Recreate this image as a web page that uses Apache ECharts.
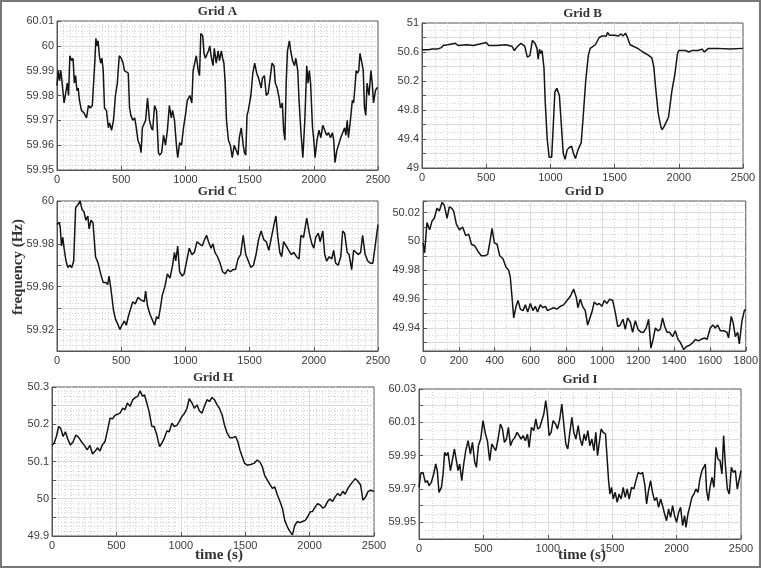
<!DOCTYPE html>
<html>
<head>
<meta charset="utf-8">
<script src="https://cdn.jsdelivr.net/npm/echarts@6/dist/echarts.min.js"></script>
<style>
  html, body { margin: 0; padding: 0; background: #fff; }
  #chart { width: 761px; height: 568px; }
</style>
</head>
<body>
<div id="chart"></div>
<script>
// Grid A
const tA = [0,10,20,30,40,55,65,80,90,100,
  115,125,135,145,155,165,175,190,210,230,
  245,260,275,285,295,303,312,320,330,340,
  350,360,370,385,400,410,425,440,455,470,
  485,500,515,525,540,555,565,575,590,605,
  615,630,645,655,665,690,705,720,735,745,
  760,775,790,800,815,830,845,860,875,890,
  900,915,930,940,955,970,985,1000,1015,1035,
  1050,1060,1075,1085,1100,1110,1120,1135,1145,1155,
  1170,1180,1190,1200,1215,1225,1240,1255,1265,1280,
  1290,1300,1310,1320,1335,1350,1365,1380,1395,1410,
  1420,1435,1450,1460,1470,1480,1490,1510,1525,1540,
  1555,1570,1590,1600,1615,1630,1645,1660,1675,1690,
  1700,1715,1730,1740,1755,1765,1775,1785,1795,1810,
  1820,1835,1850,1860,1875,1885,1900,1915,1930,1945,
  1955,1965,1975,1990,2000,2010,2025,2040,2055,2070,
  2085,2100,2115,2130,2145,2155,2165,2180,2195,2210,
  2225,2240,2250,2260,2270,2285,2300,2310,2320,2330,
  2340,2350,2360,2375,2385,2395,2405,2415,2430,2445,
  2455,2465,2480,2490,2500];
const vA = [59.984,59.99,59.986,59.99,59.985,59.977,59.98,59.985,59.98,59.996,
  59.994,59.995,59.985,59.988,59.982,59.983,59.978,59.974,59.973,59.971,
  59.976,59.975,59.976,59.985,59.994,60.003,60.0,60.002,59.996,59.993,
  59.995,59.99,59.975,59.974,59.967,59.969,59.966,59.97,59.98,59.985,
  59.996,59.995,59.993,59.99,59.99,59.989,59.975,59.972,59.97,59.971,
  59.968,59.962,59.96,59.957,59.967,59.97,59.979,59.97,59.967,59.966,
  59.976,59.974,59.957,59.956,59.957,59.964,59.96,59.966,59.976,59.971,
  59.974,59.97,59.96,59.955,59.961,59.96,59.967,59.972,59.978,59.98,
  59.977,59.99,59.99,59.996,59.99,59.988,60.005,60.004,59.997,59.995,
  59.995,59.998,60.0,59.996,59.992,59.999,59.993,59.998,59.994,59.998,
  59.995,59.993,59.985,59.97,59.962,59.96,59.955,59.96,59.96,59.956,
  59.963,59.967,59.96,59.957,59.956,59.972,59.974,59.98,59.989,59.993,
  59.989,59.987,59.983,59.987,59.988,59.98,59.981,59.987,59.993,59.992,
  59.985,59.983,59.979,59.975,59.977,59.966,59.962,59.985,59.998,60.002,
  59.998,59.994,59.992,59.995,59.99,59.978,59.965,59.955,59.97,59.992,
  59.985,59.99,59.985,59.967,59.962,59.955,59.962,59.966,59.963,59.968,
  59.966,59.964,59.965,59.963,59.965,59.962,59.953,59.958,59.958,59.963,
  59.965,59.967,59.964,59.97,59.963,59.97,59.978,59.977,59.983,59.99,
  59.989,59.99,59.997,59.993,59.99,59.975,59.972,59.985,59.98,59.99,
  59.985,59.977,59.982,59.983,59.983];

// Grid B
const tB = [0,50,80,120,150,165,200,260,280,350,
  400,450,500,520,580,650,700,720,740,770,
  800,820,840,860,880,895,905,915,925,935,
  950,960,975,990,1010,1020,1035,1050,1070,1085,
  1100,1115,1130,1145,1165,1180,1195,1215,1240,1255,
  1275,1295,1310,1350,1380,1400,1435,1445,1460,1500,
  1530,1550,1565,1585,1600,1620,1680,1720,1760,1790,
  1805,1820,1840,1860,1870,1885,1900,1920,1945,1970,
  1990,2000,2050,2080,2100,2150,2180,2200,2230,2300,
  2400,2500];
const vB = [50.63,50.63,50.64,50.64,50.66,50.69,50.7,50.72,50.69,50.7,
  50.69,50.71,50.73,50.69,50.69,50.7,50.68,50.62,50.67,50.72,
  50.68,50.53,50.55,50.76,50.72,50.65,50.5,50.64,50.58,50.62,
  50.38,49.9,49.4,49.15,49.15,49.5,50.05,50.1,50.0,49.6,
  49.2,49.12,49.25,49.28,49.3,49.2,49.13,49.25,49.35,49.7,
  50.2,50.55,50.65,50.7,50.8,50.82,50.82,50.87,50.83,50.83,
  50.82,50.85,50.82,50.86,50.8,50.7,50.65,50.6,50.56,50.52,
  50.4,50.1,49.75,49.57,49.53,49.57,49.55,49.7,50.05,50.3,
  50.58,50.62,50.62,50.6,50.62,50.62,50.64,50.6,50.65,50.65,
  50.64,50.65];

// Grid C
const tC = [0,15,25,35,45,55,70,85,100,115,
  130,145,160,180,195,210,225,240,250,265,
  280,300,320,340,360,380,395,405,420,440,
  455,470,490,505,525,540,555,575,590,610,
  630,650,665,680,690,705,725,740,760,775,
  790,805,820,840,860,880,900,915,925,940,
  955,975,990,1010,1030,1050,1070,1090,1110,1130,
  1150,1165,1180,1200,1215,1230,1250,1270,1290,1310,
  1330,1350,1370,1390,1410,1430,1450,1470,1490,1510,
  1530,1550,1570,1590,1610,1630,1650,1670,1690,1705,
  1720,1735,1750,1765,1785,1805,1825,1845,1865,1885,
  1900,1920,1945,1965,1985,2000,2015,2035,2050,2070,
  2085,2100,2120,2140,2155,2170,2190,2210,2225,2240,
  2260,2275,2295,2310,2330,2345,2365,2380,2400,2420,
  2440,2460,2480,2500];
const vC = [59.989,59.99,59.988,59.979,59.983,59.978,59.972,59.969,59.97,59.969,
  59.972,59.997,59.998,60.0,59.996,59.995,59.991,59.993,59.987,59.991,
  59.99,59.974,59.971,59.966,59.962,59.962,59.961,59.965,59.959,59.949,
  59.945,59.943,59.94,59.942,59.944,59.942,59.946,59.95,59.953,59.952,
  59.955,59.954,59.954,59.953,59.958,59.951,59.947,59.947,59.942,59.946,
  59.945,59.95,59.956,59.96,59.966,59.964,59.97,59.976,59.972,59.979,
  59.967,59.965,59.966,59.972,59.978,59.975,59.976,59.981,59.98,59.979,
  59.982,59.984,59.981,59.978,59.98,59.976,59.974,59.971,59.967,59.966,
  59.968,59.967,59.968,59.968,59.973,59.975,59.984,59.975,59.972,59.969,
  59.97,59.975,59.982,59.986,59.982,59.981,59.977,59.983,59.989,59.993,
  59.983,59.976,59.974,59.981,59.979,59.977,59.975,59.976,59.974,59.973,
  59.984,59.983,59.992,59.985,59.98,59.978,59.983,59.985,59.981,59.986,
  59.975,59.972,59.974,59.973,59.977,59.971,59.97,59.974,59.986,59.985,
  59.976,59.975,59.968,59.977,59.976,59.975,59.976,59.984,59.975,59.972,
  59.971,59.971,59.98,59.989];

// Grid D
const tD = [0,9,22,37,50,63,78,91,106,119,
  134,147,160,171,186,203,221,238,255,270,
  288,307,325,344,361,375,385,398,413,428,
  446,463,478,487,496,506,519,530,543,558,
  571,584,599,613,626,639,654,669,682,695,
  710,729,747,766,784,803,822,840,855,864,
  877,890,905,918,929,942,955,970,983,998,
  1011,1026,1041,1058,1072,1086,1100,1115,1128,1141,
  1156,1169,1184,1199,1216,1230,1245,1258,1271,1283,
  1296,1309,1323,1336,1348,1361,1375,1392,1407,1422,
  1435,1454,1468,1487,1506,1519,1537,1550,1569,1584,
  1602,1617,1630,1643,1658,1677,1695,1704,1719,1729,
  1742,1755,1764,1779,1792,1800];
const vD = [49.999,49.992,50.013,50.008,50.014,50.016,50.023,50.021,50.027,50.025,
  50.016,50.024,50.023,50.021,50.012,50.008,50.010,50.004,50.005,49.998,
  49.997,49.993,49.990,49.990,49.991,50.001,50.009,49.999,49.998,49.990,
  49.988,49.982,49.980,49.975,49.962,49.947,49.955,49.959,49.953,49.952,
  49.956,49.951,49.957,49.952,49.955,49.951,49.956,49.954,49.955,49.952,
  49.953,49.954,49.953,49.955,49.956,49.959,49.962,49.967,49.961,49.954,
  49.960,49.955,49.952,49.942,49.941,49.951,49.958,49.956,49.957,49.955,
  49.959,49.957,49.960,49.959,49.951,49.941,49.942,49.946,49.939,49.947,
  49.944,49.937,49.945,49.939,49.937,49.937,49.940,49.946,49.926,49.932,
  49.940,49.938,49.939,49.947,49.941,49.937,49.937,49.934,49.938,49.932,
  49.930,49.925,49.927,49.928,49.930,49.932,49.931,49.932,49.933,49.932,
  49.940,49.942,49.940,49.942,49.938,49.938,49.937,49.933,49.948,49.944,
  49.934,49.937,49.929,49.945,49.952,49.953];

// Grid H
const tH = [0,16,34,52,68,86,104,125,143,164,
  185,208,229,250,273,294,315,335,354,372,
  390,411,429,450,471,489,510,528,549,567,
  585,606,627,648,666,684,702,718,736,754,
  775,793,814,835,853,871,892,910,931,949,
  970,988,1009,1030,1048,1066,1087,1105,1126,1144,
  1165,1183,1204,1222,1243,1261,1282,1300,1321,1339,
  1360,1381,1404,1425,1443,1459,1477,1495,1516,1542,
  1568,1594,1615,1633,1651,1672,1693,1711,1729,1750,
  1771,1789,1807,1828,1849,1867,1885,1906,1924,1945,
  1966,1984,2005,2023,2044,2062,2083,2101,2119,2140,
  2158,2179,2198,2219,2237,2258,2276,2297,2315,2336,
  2354,2375,2396,2414,2435,2453,2474,2500];
const vH = [50.144,50.149,50.167,50.194,50.189,50.167,50.180,50.158,50.144,50.153,
  50.171,50.164,50.153,50.144,50.131,50.143,50.120,50.128,50.137,50.128,
  50.144,50.153,50.180,50.216,50.215,50.224,50.227,50.230,50.243,50.239,
  50.257,50.248,50.266,50.272,50.275,50.290,50.275,50.279,50.257,50.234,
  50.194,50.194,50.171,50.140,50.149,50.162,50.182,50.180,50.203,50.194,
  50.197,50.207,50.221,50.230,50.243,50.269,50.257,50.243,50.252,50.236,
  50.230,50.248,50.266,50.261,50.272,50.266,50.252,50.243,50.225,50.198,
  50.176,50.164,50.164,50.167,50.153,50.131,50.113,50.095,50.090,50.092,
  50.095,50.104,50.098,50.086,50.063,50.050,50.038,50.028,50.032,50.010,
  49.992,49.974,49.942,49.924,49.911,49.903,49.929,49.939,49.936,49.939,
  49.942,49.951,49.965,49.966,49.978,49.987,49.983,49.975,49.978,49.993,
  49.999,49.993,50.005,50.014,50.008,50.020,50.012,50.028,50.037,50.046,
  50.054,50.047,50.037,49.996,50.005,50.019,50.023,50.020];

// Grid I
const tI = [0,13,31,49,65,78,96,114,130,142,
  155,174,187,199,212,225,244,259,275,290,
  303,316,332,347,363,381,399,415,433,446,
  461,479,497,516,531,549,565,580,596,614,
  632,648,663,679,694,710,725,744,762,777,
  793,808,826,842,855,873,891,907,922,938,
  953,969,984,997,1010,1026,1041,1060,1075,1093,
  1109,1124,1140,1155,1171,1187,1202,1218,1236,1251,
  1267,1282,1295,1311,1326,1342,1358,1373,1386,1399,
  1414,1430,1448,1461,1472,1482,1495,1508,1523,1539,
  1554,1570,1585,1601,1616,1632,1650,1668,1684,1702,
  1720,1736,1754,1767,1782,1798,1813,1829,1845,1860,
  1876,1891,1907,1922,1938,1953,1969,1984,2000,2016,
  2031,2047,2062,2073,2088,2104,2119,2135,2150,2166,
  2181,2197,2212,2223,2233,2246,2259,2275,2290,2306,
  2321,2337,2352,2365,2378,2394,2409,2425,2440,2456,
  2471,2484,2500];
const vI = [59.971,59.979,59.980,59.974,59.975,59.972,59.974,59.979,59.985,59.981,
  59.968,59.971,59.979,59.992,59.990,59.992,59.981,59.980,59.994,59.993,
  59.981,59.985,59.975,59.985,59.993,59.999,59.991,59.998,59.986,59.983,
  59.996,60.000,60.011,60.003,59.999,59.987,59.997,59.995,59.993,60.000,
  60.009,60.006,59.998,60.000,60.007,59.996,59.999,60.001,60.004,60.003,
  60.000,60.002,59.999,60.003,59.995,60.007,60.005,60.012,60.006,60.007,
  60.008,60.015,60.023,60.015,60.002,60.004,60.011,60.009,60.006,60.012,
  60.021,60.009,59.997,59.994,60.004,60.013,60.004,60.000,60.008,60.000,
  59.996,60.003,59.999,60.005,59.996,60.000,59.993,60.004,59.990,59.991,
  60.006,60.004,60.003,60.003,59.975,59.967,59.971,59.964,59.968,59.962,
  59.967,59.964,59.971,59.965,59.970,59.964,59.971,59.970,59.975,59.980,
  59.979,59.980,59.972,59.961,59.969,59.975,59.968,59.963,59.965,59.959,
  59.964,59.960,59.955,59.951,59.958,59.953,59.960,59.954,59.950,59.956,
  59.959,59.948,59.954,59.947,59.955,59.960,59.965,59.967,59.970,59.968,
  59.976,59.981,59.982,59.985,59.969,59.963,59.971,59.977,59.971,59.995,
  59.988,59.987,59.979,60.002,59.985,59.970,59.967,59.983,59.980,59.981,
  59.970,59.975,59.981];

// tick labels (value -> text)
const yTickValsA = [59.95, 59.96, 59.97, 59.98, 59.99, 60, 60.01];
const yTickTextA = ['59.95', '59.96', '59.97', '59.98', '59.99', '60', '60.01'];
const yTickValsB = [49, 49.4, 49.8, 50.2, 50.6, 51];
const yTickTextB = ['49', '49.4', '49.8', '50.2', '50.6', '51'];
const yTickValsC = [59.94, 59.96, 59.98, 60];
const yTickTextC = ['59.92', '59.96', '59.98', '60'];
const yTickValsD = [49.94, 49.96, 49.98, 50, 50.02];
const yTickTextD = ['49.94', '49.96', '49.98', '50', '50.02'];
const yTickValsH = [49.9, 50, 50.1, 50.2, 50.3];
const yTickTextH = ['49.9', '50', '50.1', '50.2', '50.3'];
const yTickValsI = [59.95, 59.97, 59.99, 60.01, 60.03];
const yTickTextI = ['59.95', '59.97', '59.99', '60.01', '60.03'];

const titles = ['Grid A', 'Grid B', 'Grid C', 'Grid D', 'Grid H', 'Grid I'];

const gridBoxes = [
  { left: 57, top: 21, width: 321, height: 149 },
  { left: 422, top: 23, width: 321, height: 145 },
  { left: 57, top: 201, width: 321, height: 150 },
  { left: 423, top: 201, width: 323, height: 150 },
  { left: 52, top: 387, width: 322, height: 149 },
  { left: 419, top: 389, width: 322, height: 150 }
];

const labelFont = { color: '#3a3a3a', fontSize: 11, fontFamily: 'Liberation Sans' };
const gridLine = { color: '#dcdcdc', width: 1 };
const minorLine = { color: '#d2d2d2', width: 1, type: [1, 2] };

const pairs = (t, v) => t.map((x, i) => [x, v[i]]);

const xAxisFor = (i, max, interval, minor) => ({
  type: 'value', gridIndex: i, min: 0, max: max, interval: interval,
  axisLine: { show: true, lineStyle: { color: '#555' } },
  axisTick: { show: true, inside: true, length: 4, lineStyle: { color: '#555' } },
  axisLabel: { ...labelFont, margin: 4, formatter: (v) => String(v) },
  splitLine: { show: true, showMinLine: false, showMaxLine: false, lineStyle: gridLine },
  minorTick: { show: false, splitNumber: minor },
  minorSplitLine: { show: true, lineStyle: minorLine }
})

const yAxisFor = (i, min, max, interval, minor, vals, texts) => ({
  type: 'value', gridIndex: i, min: min, max: max, interval: interval, splitNumber: 10,
  axisLine: { show: true, lineStyle: { color: '#555' } },
  axisTick: { show: true, inside: true, length: 4, lineStyle: { color: '#555' } },
  axisLabel: {
    ...labelFont, margin: 3,
    formatter: (v) => {
      for (let k = 0; k < vals.length; k++) {
        if (Math.abs(v - vals[k]) < 1e-6) return texts[k]
      }
      return ''
    }
  },
  splitLine: { show: true, showMinLine: false, showMaxLine: false, lineStyle: gridLine },
  minorTick: { show: false, splitNumber: minor },
  minorSplitLine: { show: true, lineStyle: minorLine }
})

const seriesData = [pairs(tA, vA), pairs(tB, vB), pairs(tC, vC), pairs(tD, vD), pairs(tH, vH), pairs(tI, vI)];

const chart = echarts.init(document.getElementById('chart'), null, { renderer: 'canvas' });

const option = {
  animation: false,
  backgroundColor: '#fff',
  grid: gridBoxes.map(g => ({ ...g, show: true, borderColor: '#555', borderWidth: 1, backgroundColor: '#fff' })),
  xAxis: [
    xAxisFor(0, 2500, 500, 10),
    xAxisFor(1, 2500, 500, 5),
    xAxisFor(2, 2500, 500, 10),
    xAxisFor(3, 1800, 200, 3),
    xAxisFor(4, 2500, 500, 10),
    xAxisFor(5, 2500, 500, 5)
  ],
  yAxis: [
    yAxisFor(0, 59.95, 60.01, 0.01, 5, yTickValsA, yTickTextA),
    yAxisFor(1, 49, 51, 0.2, 2, yTickValsB, yTickTextB),
    yAxisFor(2, 59.93, 60, 0.01, 4, yTickValsC, yTickTextC),
    yAxisFor(3, 49.924, 50.028, null, 2, yTickValsD, yTickTextD),
    yAxisFor(4, 49.9, 50.3, 0.05, 4, yTickValsH, yTickTextH),
    yAxisFor(5, 59.94, 60.03, 0.01, 2, yTickValsI, yTickTextI)
  ],
  series: seriesData.map((d, i) => ({
    type: 'line', xAxisIndex: i, yAxisIndex: i, data: d,
    showSymbol: false, symbol: 'none', silent: true,
    lineStyle: { color: '#151515', width: 1.5 }
  })),
  graphic: [
    ...titles.map((t, i) => ({
      type: 'text',
      x: gridBoxes[i].left + gridBoxes[i].width / 2,
      y: gridBoxes[i].top - 9,
      style: { text: t, font: 'bold 13px "Liberation Serif"', fill: '#333', align: 'center', verticalAlign: 'middle' }
    })),
    {
      type: 'text', x: 18, y: 267, rotation: Math.PI / 2,
      style: { text: 'frequency (Hz)', font: 'bold 15px "Liberation Serif"', fill: '#333', align: 'center', verticalAlign: 'middle' }
    },
    {
      type: 'text', x: 219, y: 555,
      style: { text: 'time (s)', font: 'bold 15px "Liberation Serif"', fill: '#333', align: 'center', verticalAlign: 'middle' }
    },
    {
      type: 'text', x: 582, y: 555,
      style: { text: 'time (s)', font: 'bold 15px "Liberation Serif"', fill: '#333', align: 'center', verticalAlign: 'middle' }
    },
    {
      type: 'rect', z: 100, silent: true,
      shape: { x: 1, y: 1, width: 759, height: 566 },
      style: { fill: null, stroke: '#777', lineWidth: 2 }
    }
  ]
};

chart.setOption(option);
window.addEventListener('resize', () => chart.resize());
</script>
</body>
</html>
